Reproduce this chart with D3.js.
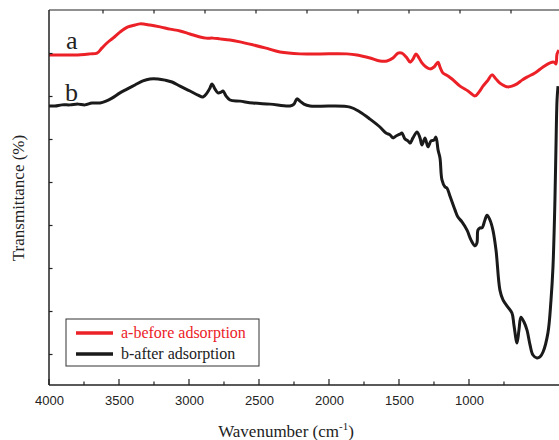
<!DOCTYPE html>
<html><head><meta charset="utf-8">
<script src="https://cdn.jsdelivr.net/npm/d3@7"></script>
<style>body{margin:0;background:#fff}svg{display:block}</style>
</head><body><svg id="c" width="559" height="440"></svg>
<script>
// Wavenumbers (cm^-1) and transmittance (%)
const waveA = [4000,3921,3814,3707,3657,3621,3586,3543,3493,3436,3386,3350,3279,3207,3136,3064,2993,2921,2879,2829,2779,2707,2636,2543,2457,2350,2207,2064,1871,1800,1707,1636,1586,1543,1507,1479,1443,1421,1400,1379,1357,1336,1307,1279,1250,1221,1207,1186,1150,1121,1064,1007,957,929,900,864,836,807,779,743,721,693,657,621,586,529,471,421,393,379,371,357];
const transA = [88.0,88.0,88.0,88.3,88.5,89.9,91.2,92.5,94.1,95.5,96.0,96.3,96.0,95.5,94.9,94.4,93.6,92.8,92.5,92.5,92.3,92.0,91.5,90.7,89.9,88.8,88.3,88.3,88.3,88.0,87.2,86.4,86.4,87.2,88.5,88.5,87.2,86.1,86.9,88.3,87.2,85.9,84.8,84.3,84.8,86.1,84.8,83.2,82.4,81.6,79.7,78.4,77.1,78.1,79.7,81.3,82.7,81.6,80.5,79.7,79.5,79.7,80.3,81.3,82.1,83.2,84.8,85.9,86.1,85.6,88.3,89.3];
const waveB = [4000,3957,3907,3850,3793,3743,3693,3636,3593,3550,3493,3443,3386,3329,3279,3221,3171,3121,3064,2993,2936,2900,2871,2850,2836,2814,2793,2771,2757,2736,2707,2636,2543,2421,2279,2250,2229,2207,2179,2136,1993,1850,1779,1707,1636,1593,1564,1543,1521,1493,1479,1457,1436,1421,1400,1371,1350,1336,1314,1293,1271,1250,1236,1221,1207,1193,1171,1157,1136,1100,1079,1050,1014,986,957,943,936,921,907,886,871,850,829,807,779,757,729,693,679,657,643,629,607,586,564,543,514,493,471,436,414,400,386,379,371,364];
const transB = [74.4,74.4,74.7,74.7,74.9,74.7,75.2,75.2,75.7,76.5,77.9,78.9,80.0,81.1,81.6,81.6,81.3,80.8,79.7,78.4,77.3,76.8,77.9,79.2,80.3,78.9,77.9,78.1,78.4,77.1,76.0,75.7,75.2,74.9,74.4,74.9,76.3,75.7,74.9,74.4,74.4,74.1,72.8,70.9,68.8,67.2,66.7,65.9,66.4,66.9,67.2,65.6,65.1,64.5,65.9,67.5,65.9,64.0,65.9,63.5,65.1,65.3,66.1,62.7,60.5,54.7,52.8,52.5,50.4,46.7,44.8,43.5,41.3,38.7,37.1,37.9,41.3,41.9,41.9,44.0,45.3,44.0,41.3,36.0,25.3,22.7,21.1,19.2,16.0,11.2,14.7,18.1,16.8,14.7,10.7,8.0,7.2,7.5,8.8,13.9,22.7,31.5,49.3,62.7,76.0,79.7];
const xTickValues = [4000,3500,3000,2500,2000,1500,1000];
const xMinorValues = [3750,3250,2750,2250,1750,1250,750];
const seriesNames = ["a-before adsorption","b-after adsorption"];
const seriesTags = ["a","b"];
const colors = ["#ec2127","#1a1a1a"];

const svg = d3.select("#c");
const L = 49, R = 559, T = 10, B = 385;
const x = d3.scaleLinear().domain([4000, 357]).range([L, R]);
const y = d3.scaleLinear().domain([0, 100]).range([B, T]);
const axisColor = "#222";

const clip = svg.append("clipPath").attr("id","clp").append("rect").attr("x",L).attr("y",T).attr("width",R-L).attr("height",B-T);

const line = d3.line().x(d=>x(d[0])).y(d=>y(d[1])).curve(d3.curveCatmullRom.alpha(0.5));
const dA = waveA.map((w,i)=>[w,transA[i]]);
const dB = waveB.map((w,i)=>[w,transB[i]]);
const g = svg.append("g").attr("clip-path","url(#clp)");
g.append("path").datum(dB).attr("d",line).attr("fill","none").attr("stroke",colors[1]).attr("stroke-width",3).attr("stroke-linejoin","round");
g.append("path").datum(dA).attr("d",line).attr("fill","none").attr("stroke",colors[0]).attr("stroke-width",3).attr("stroke-linejoin","round");

// Bottom axis
const xAxis = d3.axisBottom(x).tickValues(xTickValues).tickSize(0).tickPadding(0).tickFormat(d3.format("d"));
const ax = svg.append("g").attr("transform",`translate(0,${B})`).call(xAxis);
ax.select(".domain").remove();
ax.selectAll("text").attr("y",20).attr("dy",0).attr("font-family","'Liberation Sans', Arial, sans-serif").attr("font-size",13).attr("fill","#222");
// major/minor ticks pointing inward
svg.append("g").selectAll("line").data(xTickValues).join("line")
  .attr("x1",d=>x(d)).attr("x2",d=>x(d)).attr("y1",B).attr("y2",B-6).attr("stroke",axisColor).attr("stroke-width",1.2);
svg.append("g").selectAll("line").data(xMinorValues).join("line")
  .attr("x1",d=>x(d)).attr("x2",d=>x(d)).attr("y1",B).attr("y2",B-3.5).attr("stroke",axisColor).attr("stroke-width",1.2);

// Top ticks
const topTicks = d3.range(0,9).map(i=>103+i*51);
svg.append("g").selectAll("line").data(topTicks).join("line")
  .attr("x1",d=>d).attr("x2",d=>d).attr("y1",T).attr("y2",T+3.5).attr("stroke",axisColor).attr("stroke-width",1.2);
// Left ticks
const leftTicks = d3.range(0,8).map(i=>53.5+i*43);
svg.append("g").selectAll("line").data(leftTicks).join("line")
  .attr("x1",L).attr("x2",L+3.5).attr("y1",d=>d).attr("y2",d=>d).attr("stroke",axisColor).attr("stroke-width",1.2);

// frame lines
svg.append("line").attr("x1",L).attr("x2",R).attr("y1",B).attr("y2",B).attr("stroke",axisColor).attr("stroke-width",1.5);
svg.append("line").attr("x1",L).attr("x2",R).attr("y1",T).attr("y2",T).attr("stroke",axisColor).attr("stroke-width",1.2);
svg.append("line").attr("x1",L).attr("x2",L).attr("y1",T).attr("y2",B).attr("stroke",axisColor).attr("stroke-width",1.5);

const serif = "'Liberation Serif', 'Times New Roman', serif";
// curve tags
svg.append("text").attr("x",66).attr("y",49).attr("font-family",serif).attr("font-size",26).attr("fill","#222").text(seriesTags[0]);
svg.append("text").attr("x",65).attr("y",101).attr("font-family",serif).attr("font-size",26).attr("fill","#222").text(seriesTags[1]);

// axis titles
const xt = svg.append("text").attr("x",286).attr("y",437).attr("text-anchor","middle").attr("font-family",serif).attr("font-size",17).attr("fill","#222");
xt.append("tspan").text("Wavenumber (cm");
xt.append("tspan").attr("font-size",11).attr("dy",-7).text("-1");
xt.append("tspan").attr("dy",7).text(")");
svg.append("text").attr("transform","translate(24,198) rotate(-90)").attr("text-anchor","middle").attr("font-family",serif).attr("font-size",17).attr("fill","#222").text("Transmittance (%)");

// legend
const lg = svg.append("g");
lg.append("rect").attr("x",66).attr("y",319).attr("width",193).attr("height",47).attr("fill","#fff").attr("stroke","#333").attr("stroke-width",1);
seriesNames.forEach((n,i)=>{
  const yy = 333 + i*21;
  lg.append("line").attr("x1",76).attr("x2",113).attr("y1",yy).attr("y2",yy).attr("stroke",colors[i]).attr("stroke-width",3.5);
  lg.append("text").attr("x",121).attr("y",yy+5).attr("font-family",serif).attr("font-size",16).attr("fill",i===0?colors[0]:"#222").text(n);
});
</script></body></html>
